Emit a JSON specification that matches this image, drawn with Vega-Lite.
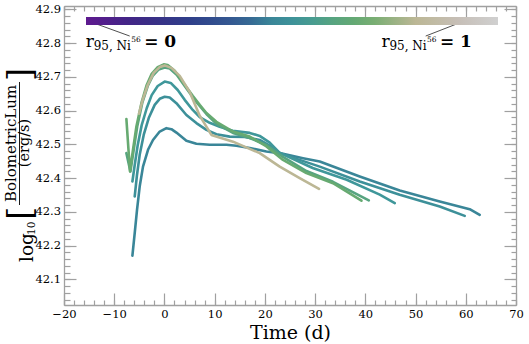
{
  "$schema": "https://vega.github.io/schema/vega-lite/v6.json",
  "width": 452,
  "height": 299,
  "autosize": "none",
  "padding": {"left": 64, "top": 6, "right": 13, "bottom": 39},
  "background": "white",
  "config": {
    "view": {"stroke": null},
    "font": "DejaVu Serif",
    "axis": {"labelFont": "DejaVu Serif", "titleFont": "DejaVu Serif", "grid": false, "domainColor": "#a0a0a0", "tickColor": "#a0a0a0", "domainWidth": 1.3, "tickWidth": 1.2, "labelColor": "#000000", "titleColor": "#000000"}
  },
  "datasets": {
    "curves": [
      {"id": "A", "r": 0.45, "t": -6.38, "lum": 42.170}, {"id": "A", "r": 0.45, "t": -5.92, "lum": 42.237}, {"id": "A", "r": 0.45, "t": -5.46, "lum": 42.306}, {"id": "A", "r": 0.45, "t": -4.93, "lum": 42.375}, {"id": "A", "r": 0.45, "t": -4.27, "lum": 42.434}, {"id": "A", "r": 0.45, "t": -3.27, "lum": 42.484}, {"id": "A", "r": 0.45, "t": -2.28, "lum": 42.513}, {"id": "A", "r": 0.45, "t": -0.94, "lum": 42.538}, {"id": "A", "r": 0.45, "t": 0.39, "lum": 42.548}, {"id": "A", "r": 0.45, "t": 1.39, "lum": 42.545}, {"id": "A", "r": 0.45, "t": 2.38, "lum": 42.535}, {"id": "A", "r": 0.45, "t": 4.37, "lum": 42.511}, {"id": "A", "r": 0.45, "t": 6.36, "lum": 42.502}, {"id": "A", "r": 0.45, "t": 9.01, "lum": 42.499}, {"id": "A", "r": 0.45, "t": 12.34, "lum": 42.499}, {"id": "A", "r": 0.45, "t": 14.33, "lum": 42.496}, {"id": "A", "r": 0.45, "t": 16.98, "lum": 42.489}, {"id": "A", "r": 0.45, "t": 20.30, "lum": 42.479}, {"id": "A", "r": 0.45, "t": 23.61, "lum": 42.472}, {"id": "A", "r": 0.45, "t": 27.59, "lum": 42.459}, {"id": "A", "r": 0.45, "t": 30.92, "lum": 42.449}, {"id": "A", "r": 0.45, "t": 38.88, "lum": 42.405}, {"id": "A", "r": 0.45, "t": 46.85, "lum": 42.363}, {"id": "A", "r": 0.45, "t": 54.81, "lum": 42.331}, {"id": "A", "r": 0.45, "t": 60.78, "lum": 42.308}, {"id": "A", "r": 0.45, "t": 62.77, "lum": 42.291},
      {"id": "D", "r": 0.49, "t": -5.92, "lum": 42.346}, {"id": "D", "r": 0.49, "t": -5.46, "lum": 42.41}, {"id": "D", "r": 0.49, "t": -4.93, "lum": 42.469}, {"id": "D", "r": 0.49, "t": -4.13, "lum": 42.528}, {"id": "D", "r": 0.49, "t": -3.13, "lum": 42.578}, {"id": "D", "r": 0.49, "t": -1.94, "lum": 42.617}, {"id": "D", "r": 0.49, "t": -0.94, "lum": 42.635}, {"id": "D", "r": 0.49, "t": 0.05, "lum": 42.641}, {"id": "D", "r": 0.49, "t": 1.05, "lum": 42.639}, {"id": "D", "r": 0.49, "t": 2.38, "lum": 42.622}, {"id": "D", "r": 0.49, "t": 4.37, "lum": 42.587}, {"id": "D", "r": 0.49, "t": 6.36, "lum": 42.563}, {"id": "D", "r": 0.49, "t": 8.36, "lum": 42.543}, {"id": "D", "r": 0.49, "t": 10.35, "lum": 42.530}, {"id": "D", "r": 0.49, "t": 12.99, "lum": 42.523}, {"id": "D", "r": 0.49, "t": 15.98, "lum": 42.522}, {"id": "D", "r": 0.49, "t": 18.97, "lum": 42.513}, {"id": "D", "r": 0.49, "t": 20.96, "lum": 42.496}, {"id": "D", "r": 0.49, "t": 22.95, "lum": 42.474}, {"id": "D", "r": 0.49, "t": 30.92, "lum": 42.434}, {"id": "D", "r": 0.49, "t": 38.88, "lum": 42.390}, {"id": "D", "r": 0.49, "t": 46.85, "lum": 42.351}, {"id": "D", "r": 0.49, "t": 54.81, "lum": 42.316}, {"id": "D", "r": 0.49, "t": 59.79, "lum": 42.288},
      {"id": "C", "r": 0.52, "t": -6.38, "lum": 42.39}, {"id": "C", "r": 0.52, "t": -5.92, "lum": 42.439}, {"id": "C", "r": 0.52, "t": -5.32, "lum": 42.498}, {"id": "C", "r": 0.52, "t": -4.53, "lum": 42.557}, {"id": "C", "r": 0.52, "t": -3.53, "lum": 42.607}, {"id": "C", "r": 0.52, "t": -2.54, "lum": 42.646}, {"id": "C", "r": 0.52, "t": -1.34, "lum": 42.673}, {"id": "C", "r": 0.52, "t": 0.05, "lum": 42.686}, {"id": "C", "r": 0.52, "t": 1.25, "lum": 42.682}, {"id": "C", "r": 0.52, "t": 2.64, "lum": 42.661}, {"id": "C", "r": 0.52, "t": 4.03, "lum": 42.632}, {"id": "C", "r": 0.52, "t": 5.63, "lum": 42.602}, {"id": "C", "r": 0.52, "t": 7.02, "lum": 42.581}, {"id": "C", "r": 0.52, "t": 9.01, "lum": 42.564}, {"id": "C", "r": 0.52, "t": 11.0, "lum": 42.552}, {"id": "C", "r": 0.52, "t": 13.59, "lum": 42.54}, {"id": "C", "r": 0.52, "t": 16.98, "lum": 42.534}, {"id": "C", "r": 0.52, "t": 18.97, "lum": 42.525}, {"id": "C", "r": 0.52, "t": 20.96, "lum": 42.505}, {"id": "C", "r": 0.52, "t": 22.95, "lum": 42.475}, {"id": "C", "r": 0.52, "t": 29.52, "lum": 42.43}, {"id": "C", "r": 0.52, "t": 36.29, "lum": 42.395}, {"id": "C", "r": 0.52, "t": 42.87, "lum": 42.351}, {"id": "C", "r": 0.52, "t": 45.86, "lum": 42.326},
      {"id": "G2", "r": 0.6, "t": -7.575, "lum": 42.474}, {"id": "G2", "r": 0.6, "t": -6.778, "lum": 42.4195}, {"id": "G2", "r": 0.6, "t": -6.12, "lum": 42.484}, {"id": "G2", "r": 0.6, "t": -5.42, "lum": 42.553}, {"id": "G2", "r": 0.6, "t": -4.43, "lum": 42.622}, {"id": "G2", "r": 0.6, "t": -3.33, "lum": 42.673}, {"id": "G2", "r": 0.6, "t": -2.34, "lum": 42.703}, {"id": "G2", "r": 0.6, "t": -1.14, "lum": 42.722}, {"id": "G2", "r": 0.6, "t": 0.05, "lum": 42.728}, {"id": "G2", "r": 0.6, "t": 1.05, "lum": 42.725}, {"id": "G2", "r": 0.6, "t": 2.44, "lum": 42.706}, {"id": "G2", "r": 0.6, "t": 4.03, "lum": 42.673}, {"id": "G2", "r": 0.6, "t": 6.02, "lum": 42.632}, {"id": "G2", "r": 0.6, "t": 8.36, "lum": 42.59}, {"id": "G2", "r": 0.6, "t": 10.35, "lum": 42.561}, {"id": "G2", "r": 0.6, "t": 13.65, "lum": 42.534}, {"id": "G2", "r": 0.6, "t": 16.98, "lum": 42.519}, {"id": "G2", "r": 0.6, "t": 20.3, "lum": 42.498}, {"id": "G2", "r": 0.6, "t": 23.6, "lum": 42.463}, {"id": "G2", "r": 0.6, "t": 28.27, "lum": 42.421}, {"id": "G2", "r": 0.6, "t": 33.56, "lum": 42.389}, {"id": "G2", "r": 0.6, "t": 40.69, "lum": 42.334},
      {"id": "G1", "r": 0.66, "t": -7.575, "lum": 42.575}, {"id": "G1", "r": 0.66, "t": -7.117, "lum": 42.475}, {"id": "G1", "r": 0.66, "t": -6.858, "lum": 42.42}, {"id": "G1", "r": 0.66, "t": -6.26, "lum": 42.484}, {"id": "G1", "r": 0.66, "t": -5.583, "lum": 42.553}, {"id": "G1", "r": 0.66, "t": -4.588, "lum": 42.622}, {"id": "G1", "r": 0.66, "t": -3.532, "lum": 42.676}, {"id": "G1", "r": 0.66, "t": -2.537, "lum": 42.709}, {"id": "G1", "r": 0.66, "t": -1.342, "lum": 42.729}, {"id": "G1", "r": 0.66, "t": -0.147, "lum": 42.737}, {"id": "G1", "r": 0.66, "t": 0.649, "lum": 42.735}, {"id": "G1", "r": 0.66, "t": 2.043, "lum": 42.718}, {"id": "G1", "r": 0.66, "t": 3.636, "lum": 42.685}, {"id": "G1", "r": 0.66, "t": 5.627, "lum": 42.644}, {"id": "G1", "r": 0.66, "t": 7.021, "lum": 42.617}, {"id": "G1", "r": 0.66, "t": 8.355, "lum": 42.593}, {"id": "G1", "r": 0.66, "t": 10.347, "lum": 42.567}, {"id": "G1", "r": 0.66, "t": 13.652, "lum": 42.538}, {"id": "G1", "r": 0.66, "t": 16.977, "lum": 42.523}, {"id": "G1", "r": 0.66, "t": 20.303, "lum": 42.494}, {"id": "G1", "r": 0.66, "t": 23.608, "lum": 42.454}, {"id": "G1", "r": 0.66, "t": 28.267, "lum": 42.415}, {"id": "G1", "r": 0.66, "t": 33.564, "lum": 42.385}, {"id": "G1", "r": 0.66, "t": 39.22, "lum": 42.333},
      {"id": "T", "r": 0.8, "t": -5.06, "lum": 42.591}, {"id": "T", "r": 0.8, "t": -4.33, "lum": 42.632}, {"id": "T", "r": 0.8, "t": -3.33, "lum": 42.676}, {"id": "T", "r": 0.8, "t": -2.14, "lum": 42.712}, {"id": "T", "r": 0.8, "t": -0.94, "lum": 42.729}, {"id": "T", "r": 0.8, "t": 0.05, "lum": 42.734}, {"id": "T", "r": 0.8, "t": 1.45, "lum": 42.726}, {"id": "T", "r": 0.8, "t": 3.04, "lum": 42.703}, {"id": "T", "r": 0.8, "t": 5.03, "lum": 42.655}, {"id": "T", "r": 0.8, "t": 7.02, "lum": 42.585}, {"id": "T", "r": 0.8, "t": 9.35, "lum": 42.528}, {"id": "T", "r": 0.8, "t": 13.65, "lum": 42.508}, {"id": "T", "r": 0.8, "t": 18.97, "lum": 42.474}, {"id": "T", "r": 0.8, "t": 22.95, "lum": 42.434}, {"id": "T", "r": 0.8, "t": 26.93, "lum": 42.40}, {"id": "T", "r": 0.8, "t": 30.78, "lum": 42.368}
    ]
  },
  "resolve": {"axis": {"x": "independent", "y": "independent"}},
  "layer": [
    {
      "data": {"name": "curves"},
      "mark": {"type": "line", "strokeWidth": 2.6, "strokeCap": "round", "strokeJoin": "round"},
      "encoding": {
        "x": {"field": "t", "type": "quantitative", "scale": {"domain": [-20, 70], "nice": false, "zero": false},
          "axis": {"orient": "bottom", "values": [-20, -10, 0, 10, 20, 30, 40, 50, 60, 70], "format": "d", "tickSize": -12, "labelPadding": 15, "labelFontSize": 11.5, "labelFlush": false, "title": "Time (d)", "titleFontSize": 19, "titleFontWeight": "normal", "titlePadding": 4}},
        "y": {"field": "lum", "type": "quantitative", "scale": {"domain": [42.024, 42.91], "nice": false, "zero": false},
          "axis": {"orient": "left", "values": [42.1, 42.2, 42.3, 42.4, 42.5, 42.6, 42.7, 42.8, 42.9], "format": ".1f", "tickSize": -12, "labelPadding": 15.5, "labelFontSize": 11.5, "title": null}},
        "color": {"field": "r", "type": "quantitative",
          "scale": {"domain": [0, 0.12, 0.25, 0.38, 0.45, 0.52, 0.6, 0.68, 0.8, 0.9, 1], "range": ["#5e1a8f", "#3e2785", "#2f3f8a", "#355f93", "#3a8698", "#3f979a", "#57a480", "#6cac6c", "#bcb795", "#c6beb6", "#d0d0d0"], "interpolate": "rgb"},
          "legend": {"orient": "none", "legendX": 22, "legendY": 11, "direction": "horizontal", "gradientLength": 412, "gradientThickness": 8, "gradientStrokeWidth": 0, "title": null, "labelOpacity": 0, "labelFontSize": 1, "padding": 0, "offset": 0}},
        "detail": {"field": "id", "type": "nominal"}
      }
    },
    {
      "data": {"name": "curves"},
      "mark": {"type": "point", "opacity": 0},
      "encoding": {
        "x": {"field": "t", "type": "quantitative", "axis": {"orient": "bottom", "values": [-20, -18, -16, -14, -12, -10, -8, -6, -4, -2, 0, 2, 4, 6, 8, 10, 12, 14, 16, 18, 20, 22, 24, 26, 28, 30, 32, 34, 36, 38, 40, 42, 44, 46, 48, 50, 52, 54, 56, 58, 60, 62, 64, 66, 68, 70], "tickSize": -5, "labels": false, "domain": false, "title": null}},
        "y": {"field": "lum", "type": "quantitative", "axis": {"orient": "left", "values": [42.04, 42.06, 42.08, 42.1, 42.12, 42.14, 42.16, 42.18, 42.2, 42.22, 42.24, 42.26, 42.28, 42.3, 42.32, 42.34, 42.36, 42.38, 42.4, 42.42, 42.44, 42.46, 42.48, 42.5, 42.52, 42.54, 42.56, 42.58, 42.6, 42.62, 42.64, 42.66, 42.68, 42.7, 42.72, 42.74, 42.76, 42.78, 42.8, 42.82, 42.84, 42.86, 42.88, 42.9], "tickSize": -6, "labels": false, "domain": false, "title": null}}
      }
    },
    {
      "data": {"name": "curves"},
      "mark": {"type": "point", "opacity": 0},
      "encoding": {
        "x": {"field": "t", "type": "quantitative", "axis": {"orient": "top", "values": [-20, -10, 0, 10, 20, 30, 40, 50, 60, 70], "tickSize": -12, "labels": false, "title": null}},
        "y": {"field": "lum", "type": "quantitative", "axis": {"orient": "right", "values": [42.1, 42.2, 42.3, 42.4, 42.5, 42.6, 42.7, 42.8, 42.9], "tickSize": -12, "labels": false, "title": null}}
      }
    },
    {
      "data": {"name": "curves"},
      "mark": {"type": "point", "opacity": 0},
      "encoding": {
        "x": {"field": "t", "type": "quantitative", "axis": {"orient": "top", "values": [-20, -18, -16, -14, -12, -10, -8, -6, -4, -2, 0, 2, 4, 6, 8, 10, 12, 14, 16, 18, 20, 22, 24, 26, 28, 30, 32, 34, 36, 38, 40, 42, 44, 46, 48, 50, 52, 54, 56, 58, 60, 62, 64, 66, 68, 70], "tickSize": -5, "labels": false, "domain": false, "title": null}},
        "y": {"field": "lum", "type": "quantitative", "axis": {"orient": "right", "values": [42.04, 42.06, 42.08, 42.1, 42.12, 42.14, 42.16, 42.18, 42.2, 42.22, 42.24, 42.26, 42.28, 42.3, 42.32, 42.34, 42.36, 42.38, 42.4, 42.42, 42.44, 42.46, 42.48, 42.5, 42.52, 42.54, 42.56, 42.58, 42.6, 42.62, 42.64, 42.66, 42.68, 42.7, 42.72, 42.74, 42.76, 42.78, 42.8, 42.82, 42.84, 42.86, 42.88, 42.9], "tickSize": -5, "labels": false, "domain": false, "title": null}}
      }
    },
    {
      "data": {"values": [{"x1": -13.49, "y1": 42.8565, "x2": -6.92, "y2": 42.821}, {"x1": 58.14, "y1": 42.8565, "x2": 52.02, "y2": 42.821}]},
      "mark": {"type": "rule", "color": "#222222", "strokeWidth": 0.8},
      "encoding": {
        "x": {"field": "x1", "type": "quantitative", "axis": null},
        "y": {"field": "y1", "type": "quantitative", "axis": null},
        "x2": {"field": "x2"},
        "y2": {"field": "y2"}
      }
    },
    {
      "data": {"values": [{"x": -15.68, "y": 42.788}, {"x": 43.2, "y": 42.788}]},
      "mark": {"type": "text", "text": "r", "fontSize": 17, "align": "left", "baseline": "alphabetic", "color": "#000000"},
      "encoding": {"x": {"field": "x", "type": "quantitative", "axis": null}, "y": {"field": "y", "type": "quantitative", "axis": null}}
    },
    {
      "data": {"values": [{"x": -15.68, "y": 42.788}, {"x": 43.2, "y": 42.788}]},
      "mark": {"type": "text", "text": "95, Ni", "fontSize": 12, "dx": 8, "dy": 3, "align": "left", "baseline": "alphabetic", "color": "#000000"},
      "encoding": {"x": {"field": "x", "type": "quantitative", "axis": null}, "y": {"field": "y", "type": "quantitative", "axis": null}}
    },
    {
      "data": {"values": [{"x": -15.68, "y": 42.788}, {"x": 43.2, "y": 42.788}]},
      "mark": {"type": "text", "text": "56", "fontSize": 7.5, "dx": 45.5, "dy": -5, "align": "left", "baseline": "alphabetic", "color": "#000000"},
      "encoding": {"x": {"field": "x", "type": "quantitative", "axis": null}, "y": {"field": "y", "type": "quantitative", "axis": null}}
    },
    {
      "data": {"values": [{"x": -15.68, "y": 42.788, "v": "= 0"}, {"x": 43.2, "y": 42.788, "v": "= 1"}]},
      "mark": {"type": "text", "fontSize": 17, "fontWeight": "bold", "dx": 58.5, "align": "left", "baseline": "alphabetic", "color": "#000000"},
      "encoding": {"x": {"field": "x", "type": "quantitative", "axis": null}, "y": {"field": "y", "type": "quantitative", "axis": null}, "text": {"field": "v"}}
    },
    {
      "data": {"values": [{"x": -26.17, "y": 42.1514}]},
      "mark": {"type": "text", "text": "log", "fontSize": 18.5, "angle": 270, "align": "left", "baseline": "alphabetic", "color": "#000000"},
      "encoding": {"x": {"field": "x", "type": "quantitative", "axis": null}, "y": {"field": "y", "type": "quantitative", "axis": null}}
    },
    {
      "data": {"values": [{"x": -25.7, "y": 42.2314}]},
      "mark": {"type": "text", "text": "10", "fontSize": 10.5, "angle": 270, "align": "left", "baseline": "alphabetic", "color": "#000000"},
      "encoding": {"x": {"field": "x", "type": "quantitative", "axis": null}, "y": {"field": "y", "type": "quantitative", "axis": null}}
    },
    {
      "data": {"values": [{"x": -26.57, "y": 42.2758}]},
      "mark": {"type": "text", "text": "[", "fontSize": 34, "angle": 270, "align": "left", "baseline": "alphabetic", "color": "#000000"},
      "encoding": {"x": {"field": "x", "type": "quantitative", "axis": null}, "y": {"field": "y", "type": "quantitative", "axis": null}}
    },
    {
      "data": {"values": [{"x": -26.57, "y": 42.6878}]},
      "mark": {"type": "text", "text": "]", "fontSize": 34, "angle": 270, "align": "left", "baseline": "alphabetic", "color": "#000000"},
      "encoding": {"x": {"field": "x", "type": "quantitative", "axis": null}, "y": {"field": "y", "type": "quantitative", "axis": null}}
    },
    {
      "data": {"values": [{"x": -29.56, "y": 42.5026}]},
      "mark": {"type": "text", "text": "BolometricLum", "fontSize": 15, "angle": 270, "align": "center", "baseline": "alphabetic", "color": "#000000"},
      "encoding": {"x": {"field": "x", "type": "quantitative", "axis": null}, "y": {"field": "y", "type": "quantitative", "axis": null}}
    },
    {
      "data": {"values": [{"x": -26.87, "y": 42.504}]},
      "mark": {"type": "text", "text": "(erg/s)", "fontSize": 14.5, "angle": 270, "align": "center", "baseline": "alphabetic", "color": "#000000"},
      "encoding": {"x": {"field": "x", "type": "quantitative", "axis": null}, "y": {"field": "y", "type": "quantitative", "axis": null}}
    },
    {
      "data": {"values": [{"x": -28.86, "y1": 42.3203, "y2": 42.6848}]},
      "mark": {"type": "rule", "color": "#000000", "strokeWidth": 0.9},
      "encoding": {"x": {"field": "x", "type": "quantitative", "axis": null}, "y": {"field": "y1", "type": "quantitative", "axis": null}, "y2": {"field": "y2"}}
    }
  ]
}
